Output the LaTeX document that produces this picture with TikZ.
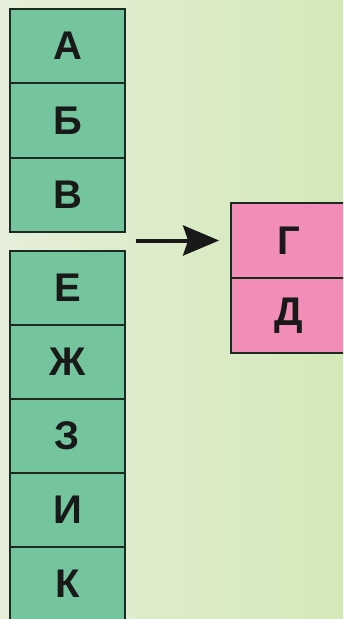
\documentclass[tikz,border=0pt]{standalone}
\usepackage{fontspec}
\setmainfont{Liberation Sans}
\usetikzlibrary{arrows.meta}
\definecolor{bgA}{HTML}{E6EED9}
\definecolor{bgB}{HTML}{D3E9B9}
\definecolor{boxgreen}{HTML}{74C59E}
\definecolor{boxpink}{HTML}{F28DB8}
\definecolor{edge}{HTML}{1C2A22}
\tikzset{
  cell/.style={draw=edge, line width=1.8pt, minimum width=115pt, minimum height=74.5pt,
    inner sep=0pt, font=\fontsize{40}{40}\selectfont\bfseries, text=black!90},
  gcell/.style={cell, fill=boxgreen},
  pcell/.style={cell, fill=boxpink},
  arr/.style={line width=4pt, draw=black!90, -{Stealth[length=36pt,width=30pt,inset=5pt]}}
}
\begin{document}
\begin{tikzpicture}[x=1pt,y=-1pt]
\useasboundingbox (0,0) rectangle (343,619);
\clip (0,0) rectangle (343,619);
\shade[left color=bgA, right color=bgB] (0,0) rectangle (343,619);
\node[gcell] (a) at (67.5,46) {А};
\node[gcell] (b) at (67.5,120.5) {Б};
\node[gcell] (v) at (67.5,195) {В};
\node[gcell] (e) at (67.5,288) {Е};
\node[gcell] (zh) at (67.5,362) {Ж};
\node[gcell] (z) at (67.5,436) {З};
\node[gcell] (i) at (67.5,510) {И};
\node[gcell] (k) at (67.5,584) {К};
\node[pcell] (g) at (288.5,240.5) {Г};
\node[pcell] (d) at (288.5,315.5) {Д};
\coordinate (s) at (136,240.5);
\draw[arr, shorten >=11pt] (s) -- (g.west);
\end{tikzpicture}
\end{document}
